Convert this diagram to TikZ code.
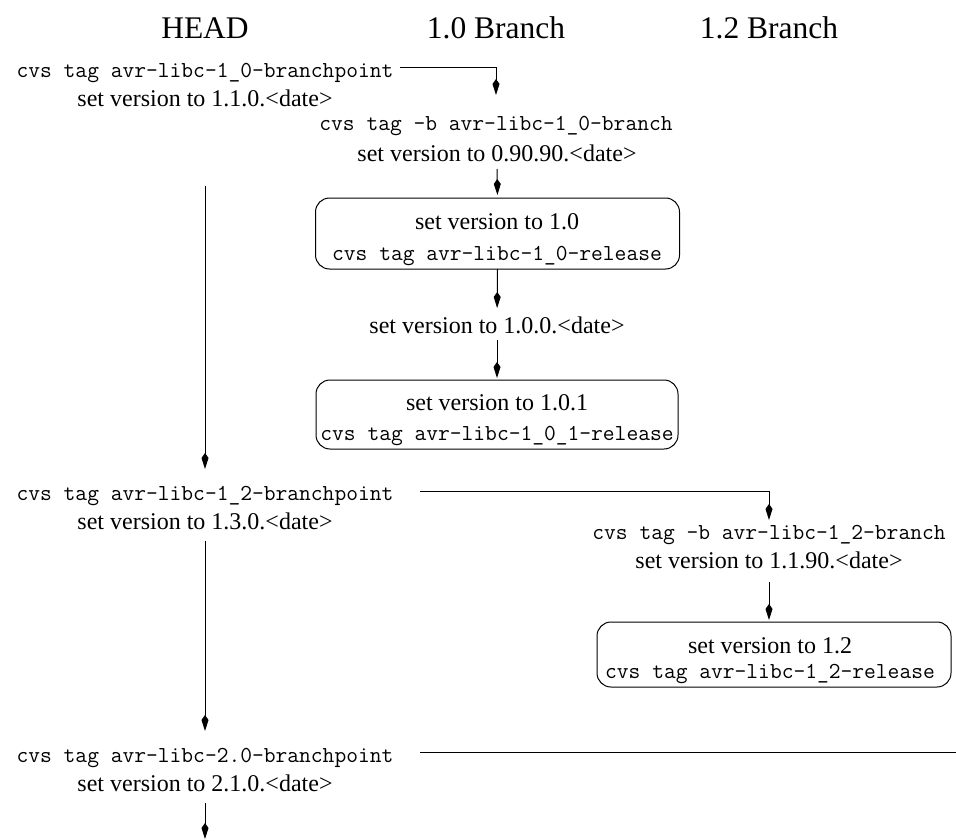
\documentclass[tikz,border=0pt]{standalone}
\usepackage{fontspec}
\setmainfont{Liberation Serif}
\usetikzlibrary{arrows.meta}
\tikzset{
  x=1pt, y=-1pt,
  every node/.style={inner sep=0pt, outer sep=0pt},
  hdr/.style={font=\fontsize{31.5}{36}\selectfont, anchor=base},
  mono/.style={font=\ttfamily\fontsize{22.86}{26}\selectfont, anchor=base, text height=13pt, text depth=4pt},
  serif/.style={font=\fontsize{24}{28}\selectfont, anchor=base, text height=16pt, text depth=5pt},
  box/.style={draw, line width=1pt, rounded corners=14pt},
  conn/.style={line width=1pt},
  arr/.style={conn, -{Kite[length=16pt,width=7pt,inset=5pt]}},
}
\begin{document}
\begin{tikzpicture}
\useasboundingbox (0,0) rectangle (956,840);
% headers
\node[hdr] (hHead) at (205,39) {HEAD};
\node[hdr] (hOne) at (496,39) {1.0 Branch};
\node[hdr] (hTwo) at (769,39) {1.2 Branch};
% HEAD column
\node[mono] (m1) at (205,78) {cvs tag avr-libc-1\_0-branchpoint};
\node[serif] (s1) at (205,107) {set version to 1.1.0.<date>};
\node[mono] (m2) at (205,500) {cvs tag avr-libc-1\_2-branchpoint};
\node[serif] (s2) at (205,529) {set version to 1.3.0.<date>};
\node[mono] (m3) at (205,762) {cvs tag avr-libc-2.0-branchpoint};
\node[serif] (s3) at (205,791) {set version to 2.1.0.<date>};
% 1.0 branch
\node[mono] (m1b) at (496,131) {cvs tag -b avr-libc-1\_0-branch};
\node[serif] (s1b) at (497,161) {set version to 0.90.90.<date>};
\node[box, minimum width=364pt, minimum height=71pt] (b1) at (497.5,233.5) {};
\node[serif] (b1t) at (497,229) {set version to 1.0};
\node[mono] (b1m) at (497,260) {cvs tag avr-libc-1\_0-release};
\node[serif] (s10) at (497,333) {set version to 1.0.0.<date>};
\node[box, minimum width=362pt, minimum height=69pt] (b2) at (497,414.5) {};
\node[serif] (b2t) at (497,410) {set version to 1.0.1};
\node[mono] (b2m) at (497,440) {cvs tag avr-libc-1\_0\_1-release};
% 1.2 branch
\node[mono] (m2b) at (769,539) {cvs tag -b avr-libc-1\_2-branch};
\node[serif] (s2b) at (769,568) {set version to 1.1.90.<date>};
\node[box, minimum width=354pt, minimum height=65pt] (b3) at (774,654.5) {};
\node[serif] (b3t) at (770,653) {set version to 1.2};
\node[mono] (b3m) at (770,678) {cvs tag avr-libc-1\_2-release};
% branch-off points
\coordinate (c1) at (400,68);
\coordinate (c2) at (420,491);
\coordinate (c3) at (420,752);
\coordinate (e3) at (956,752);
\coordinate (eHead) at (205,840);
% connectors
\draw[arr, shorten >=23pt] (c1) -| (m1b.north);
\draw[arr, shorten <=3pt, shorten >=3pt] (s1b.south) -- (b1.north);
\draw[arr, shorten >=9pt] (b1.south) -- (s10.north);
\draw[arr, shorten <=2pt, shorten >=2pt] (s10.south) -- (b2.north);
\draw[arr, shorten <=74pt, shorten >=18pt] (s1.south) -- (m2.north);
\draw[arr, shorten >=6pt] (c2) -| (m2b.north);
\draw[arr, shorten <=9pt, shorten >=2pt] (s2b.south) -- (s2b.south |- b3.north);
\draw[arr, shorten <=7pt, shorten >=18pt] (s2.south) -- (m3.north);
\draw[conn] (c3) -- (e3);
\draw[arr, shorten <=7pt, shorten >=1pt] (s3.south) -- (eHead);
\end{tikzpicture}
\end{document}
